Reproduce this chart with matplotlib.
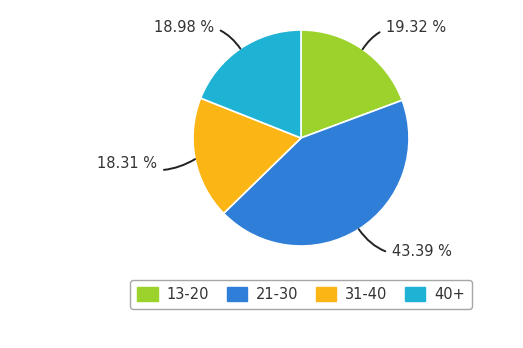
import numpy as np
import matplotlib.pyplot as plt
from matplotlib.patches import Patch

labels = ["13-20", "21-30", "31-40", "40+"]
shares = [19.32, 43.39, 18.31, 18.98]
colors = ["#9bd22b", "#2f7ed8", "#fbb515", "#1eb2d5"]

fig = plt.figure(figsize=(5.23, 3.48), dpi=100)
fig.patch.set_facecolor("white")
ax = fig.add_axes([0, 0, 1, 1])

cx, cy, r = 301, 210, 108
wedges, _ = ax.pie(shares, colors=colors, startangle=90, counterclock=False,
                   center=(cx, cy), radius=r, frame=True,
                   wedgeprops=dict(edgecolor="white", linewidth=1.2))
ax.set_xlim(0, 523)
ax.set_ylim(0, 348)
ax.set_aspect("equal")
ax.axis("off")

# text anchor x, y, alignment, curve of the connector
label_pos = [(386, 320, "left", 0.35), (392, 96, "left", -0.35),
             (157, 184, "right", 0.25), (214, 320, "right", -0.35)]
for w, val, (tx, ty, ha, rad) in zip(wedges, shares, label_pos):
    ang = np.deg2rad((w.theta1 + w.theta2) / 2)
    ex, ey = cx + r * np.cos(ang), cy + r * np.sin(ang)
    ax.annotate("%.2f %%" % val, xy=(ex, ey), xytext=(tx, ty),
                ha=ha, va="center", fontsize=10.5, color="#333333",
                arrowprops=dict(arrowstyle="-", color="#222222", lw=1.4,
                                shrinkA=3, shrinkB=0,
                                connectionstyle="arc3,rad=%s" % rad))

handles = [Patch(facecolor=c, edgecolor=c, label=l) for c, l in zip(colors, labels)]
leg = fig.legend(handles=handles, loc="center", bbox_to_anchor=(0.5755, 0.154),
                 ncol=4, frameon=True, fancybox=True, fontsize=10.5,
                 handlelength=1.4, handleheight=1.1, columnspacing=1.2,
                 handletextpad=0.6, borderpad=0.5, labelcolor="#333333")
leg.get_frame().set_edgecolor("#909090")
leg.get_frame().set_linewidth(1.0)

fig.savefig("out.png", dpi=100)
